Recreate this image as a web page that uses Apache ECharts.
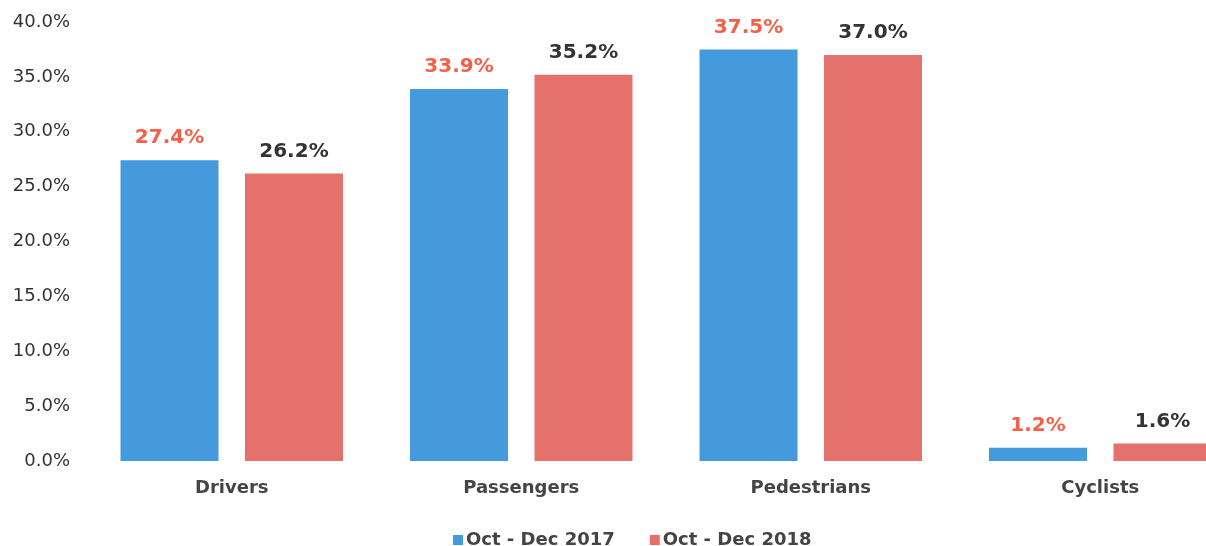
<!DOCTYPE html>
<html><head><meta charset="utf-8">
<script src="https://cdn.jsdelivr.net/npm/echarts@6/dist/echarts.min.js"></script>
<style>html,body{margin:0;padding:0;background:#fff;overflow:hidden;width:1206px;height:546px}#c{width:1245px;height:546px}</style>
</head><body><div id="c"></div>
<script>
const categories = ['Drivers', 'Passengers', 'Pedestrians', 'Cyclists'];
const seriesNames = ['Oct - Dec 2017', 'Oct - Dec 2018'];
const values2017 = [27.4, 33.9, 37.5, 1.2];
const values2018 = [26.2, 35.2, 37.0, 1.6];
const yTicks = [0, 5, 10, 15, 20, 25, 30, 35, 40];

const font = '"DejaVu Sans", Verdana, sans-serif';
const chart = echarts.init(document.getElementById('c'));
chart.setOption({
  animation: false,
  textStyle: { fontFamily: font },
  grid: { left: 87, right: 0, top: 22, bottom: 85, containLabel: false },
  legend: {
    top: 526, left: 448, itemWidth: 10, itemHeight: 10, itemGap: 35,
    icon: 'rect',
    textStyle: { fontFamily: font, fontSize: 18, fontWeight: 'bold', color: '#444', padding: [0,0,0,-2] },
    data: seriesNames
  },
  xAxis: {
    type: 'category', data: categories,
    axisLine: { show: false }, axisTick: { show: false },
    axisLabel: { fontFamily: font, fontSize: 18, fontWeight: 'bold', color: '#444', margin: 18 }
  },
  yAxis: {
    type: 'value', min: yTicks[0], max: yTicks[yTicks.length - 1], interval: 5,
    splitLine: { show: false }, axisLine: { show: false }, axisTick: { show: false },
    axisLabel: { fontFamily: font, fontSize: 18, color: '#333', margin: 17,
      formatter: v => v.toFixed(1) + '%' }
  },
  series: [
    { name: seriesNames[0], type: 'bar', data: values2017, barWidth: 98, barGap: '27%',
      itemStyle: { color: '#4599dd' },
      label: { show: true, position: 'top', distance: 12, fontFamily: font, fontSize: 20,
        fontWeight: 'bold', color: '#f4604a', formatter: p => p.value.toFixed(1) + '%' } },
    { name: seriesNames[1], type: 'bar', data: values2018, barWidth: 98,
      itemStyle: { color: '#e4716b' },
      label: { show: true, position: 'top', distance: 12, fontFamily: font, fontSize: 20,
        fontWeight: 'bold', color: '#333', formatter: p => p.value.toFixed(1) + '%' } }
  ]
});
</script></body></html>
